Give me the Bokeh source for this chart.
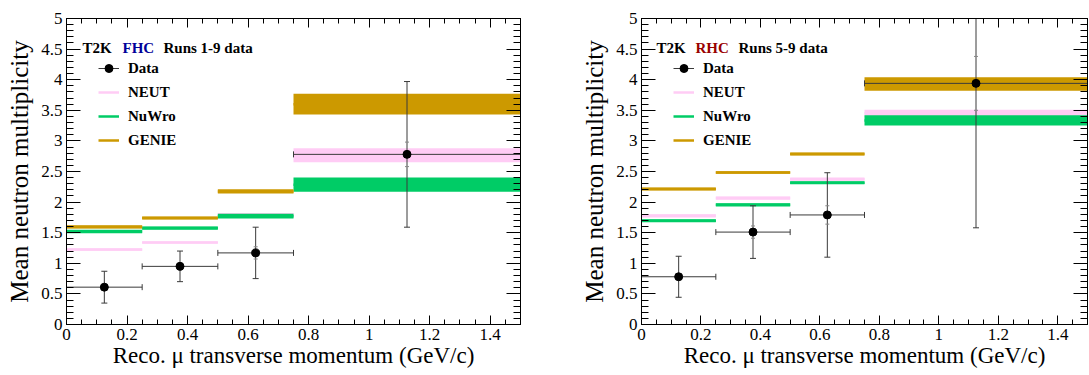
import math
from bokeh.plotting import figure
from bokeh.models import (LinearAxis, FixedTicker, CustomJSTickFormatter, Legend,
                          LegendItem, Label, Range1d)
from bokeh.layouts import row
from bokeh.embed import file_html
from bokeh.resources import INLINE

# ---------------- data ----------------
bin_lo = [0.0, 0.25, 0.5, 0.75]
bin_hi = [0.25, 0.5, 0.75, 1.5]
bin_center = [0.125, 0.375, 0.625, 1.125]

x_major = [0.0, 0.2, 0.4, 0.6, 0.8, 1.0, 1.2, 1.4]
x_minor = [round(0.05 * i, 2) for i in range(31)]
y_major = [0.0, 0.5, 1.0, 1.5, 2.0, 2.5, 3.0, 3.5, 4.0, 4.5, 5.0]
y_minor = [round(0.1 * i, 1) for i in range(51)]

# FHC (Runs 1-9)
fhc_data = [0.61, 0.95, 1.17, 2.78]
fhc_err = [0.26, 0.25, 0.42, 1.19]
fhc_inner = [0.04, 0.06, 0.10, 0.20]
fhc_neut = [1.225, 1.34, 1.80, 2.765]
fhc_neut_err = [0.018, 0.018, 0.018, 0.115]
fhc_nuwro = [1.52, 1.575, 1.77, 2.285]
fhc_nuwro_err = [0.03, 0.025, 0.04, 0.115]
fhc_genie = [1.595, 1.74, 2.175, 3.60]
fhc_genie_err = [0.025, 0.025, 0.035, 0.17]

# RHC (Runs 5-9)
rhc_data = [0.78, 1.51, 1.79, 3.94]
rhc_err = [0.335, 0.43, 0.69, 2.36]
rhc_inner = [0.04, 0.10, 0.15, 0.44]
rhc_neut = [1.775, 2.065, 2.375, 3.45]
rhc_neut_err = [0.025, 0.025, 0.025, 0.06]
rhc_nuwro = [1.695, 1.955, 2.315, 3.335]
rhc_nuwro_err = [0.025, 0.025, 0.025, 0.085]
rhc_genie = [2.215, 2.485, 2.785, 3.93]
rhc_genie_err = [0.025, 0.02, 0.025, 0.11]

NEUT_C = "#ffccf5"
NUWRO_C = "#00cc66"
GENIE_C = "#cc9900"
SERIF = "Liberation Serif"

FRAME_H = 306
TOP_B = 18
BOT_B = 51


def num_fmt():
    return CustomJSTickFormatter(code="return String(Math.round(tick*100)/100);")


def blank_fmt():
    return CustomJSTickFormatter(code="return '';")


def style_axis(ax, major, minor, show_labels):
    ax.major_tick_in = major
    ax.major_tick_out = 0
    ax.minor_tick_in = minor
    ax.minor_tick_out = 0
    ax.axis_line_color = "black"
    ax.major_tick_line_color = "black"
    ax.minor_tick_line_color = "black"
    if show_labels:
        ax.major_label_text_font = SERIF
        ax.major_label_text_font_size = "17px"
        ax.major_label_text_color = "black"
        ax.major_label_standoff = 4
    else:
        ax.major_label_standoff = 0


def make_panel(data, err, inner, models, tag, tag_color, runs, left, frame_w, right,
               title_offsets):
    p = figure(width=left + frame_w + right, height=TOP_B + FRAME_H + BOT_B,
               frame_width=frame_w, frame_height=FRAME_H,
               x_range=Range1d(0, 1.5), y_range=Range1d(0, 5),
               output_backend="svg", toolbar_location=None,
               min_border_left=left, min_border_right=right,
               min_border_top=TOP_B, min_border_bottom=BOT_B)
    p.xgrid.visible = False
    p.ygrid.visible = False
    p.outline_line_color = "black"
    p.outline_line_width = 1
    p.background_fill_color = "white"
    p.border_fill_color = "white"

    xa = p.xaxis[0]
    xa.ticker = FixedTicker(ticks=x_major, minor_ticks=x_minor)
    xa.formatter = num_fmt()
    style_axis(xa, 9, 5, True)
    xa.axis_label = "Reco. \u03bc transverse momentum (GeV/c)"
    xa.axis_label_text_font = SERIF
    xa.axis_label_text_font_size = "23px"
    xa.axis_label_text_font_style = "normal"
    xa.axis_label_text_color = "black"
    xa.axis_label_standoff = 0

    ya = p.yaxis[0]
    ya.ticker = FixedTicker(ticks=y_major, minor_ticks=y_minor)
    ya.formatter = num_fmt()
    style_axis(ya, 14, 7, True)
    ya.axis_label = "Mean neutron multiplicity"
    ya.axis_label_text_font = SERIF
    ya.axis_label_text_font_size = "25px"
    ya.axis_label_text_font_style = "normal"
    ya.axis_label_text_color = "black"
    ya.axis_label_standoff = 5

    top = LinearAxis(ticker=FixedTicker(ticks=x_major, minor_ticks=x_minor),
                     formatter=blank_fmt())
    style_axis(top, 9, 5, False)
    p.add_layout(top, "above")
    rgt = LinearAxis(ticker=FixedTicker(ticks=y_major, minor_ticks=y_minor),
                     formatter=blank_fmt())
    style_axis(rgt, 14, 7, False)
    p.add_layout(rgt, "right")

    # model bands (central line under each band, band on top)
    legend_lines = []
    for (vals, errs, col) in models:
        seg = p.segment(x0=bin_lo, y0=vals, x1=bin_hi, y1=vals, line_color=col,
                        line_width=2.5)
        p.quad(left=bin_lo, right=bin_hi,
               bottom=[v - e for v, e in zip(vals, errs)],
               top=[v + e for v, e in zip(vals, errs)],
               fill_color=col, line_color=None)
        legend_lines.append(seg)

    # data
    bar_c = "#3a3a3a"
    lo = [d - e for d, e in zip(data, err)]
    hi = [d + e for d, e in zip(data, err)]
    p.segment(x0=bin_center, y0=lo, x1=bin_center, y1=hi, line_color=bar_c, line_width=1)
    hseg = p.segment(x0=bin_lo, y0=data, x1=bin_hi, y1=data, line_color=bar_c, line_width=1)
    p.scatter(x=bin_center * 2, y=lo + hi, marker="dash", size=6, line_color=bar_c,
              line_width=1)
    p.scatter(x=bin_lo + bin_hi, y=data + data, marker="dash", size=6, angle=math.pi / 2,
              line_color=bar_c, line_width=1)
    ilo = [d - e for d, e in zip(data, inner)]
    ihi = [d + e for d, e in zip(data, inner)]
    p.scatter(x=bin_center * 2, y=ilo + ihi, marker="dash", size=4, line_color="#888888",
              line_width=1)
    mk = p.scatter(x=bin_center, y=data, marker="circle", size=8, fill_color="black",
                   line_color="black")

    legend = Legend(items=[
        LegendItem(label="Data", renderers=[hseg, mk]),
        LegendItem(label="NEUT", renderers=[legend_lines[0]]),
        LegendItem(label="NuWro", renderers=[legend_lines[1]]),
        LegendItem(label="GENIE", renderers=[legend_lines[2]]),
    ], location=(32, 174))
    legend.label_text_font = SERIF
    legend.label_text_font_style = "bold"
    legend.label_text_font_size = "15px"
    legend.label_text_color = "black"
    legend.glyph_width = 21
    legend.glyph_height = 20
    legend.label_height = 20
    legend.label_standoff = 9
    legend.spacing = 4
    legend.padding = 0
    legend.margin = 0
    legend.border_line_alpha = 0
    legend.background_fill_alpha = 0
    p.add_layout(legend)

    texts = [("T2K", "black"), (tag, tag_color), (runs, "black")]
    for (t, c), xo in zip(texts, title_offsets):
        p.add_layout(Label(x=xo, y=FRAME_H - 29, x_units="screen", y_units="screen", text=t,
                           text_font=SERIF, text_font_style="bold", text_font_size="15px",
                           text_color=c, text_baseline="alphabetic", text_align="left"))
    return p


p1 = make_panel(fhc_data, fhc_err, fhc_inner,
                [(fhc_neut, fhc_neut_err, NEUT_C), (fhc_nuwro, fhc_nuwro_err, NUWRO_C),
                 (fhc_genie, fhc_genie_err, GENIE_C)],
                "FHC", "#000099", "Runs 1-9 data", 66, 454, 40, [16, 56, 97])
p2 = make_panel(rhc_data, rhc_err, rhc_inner,
                [(rhc_neut, rhc_neut_err, NEUT_C), (rhc_nuwro, rhc_nuwro_err, NUWRO_C),
                 (rhc_genie, rhc_genie_err, GENIE_C)],
                "RHC", "#990000", "Runs 5-9 data", 81, 446, 1, [15, 54, 97])

layout = row(p1, p2)
open("out.html", "w").write(file_html(layout, INLINE))
